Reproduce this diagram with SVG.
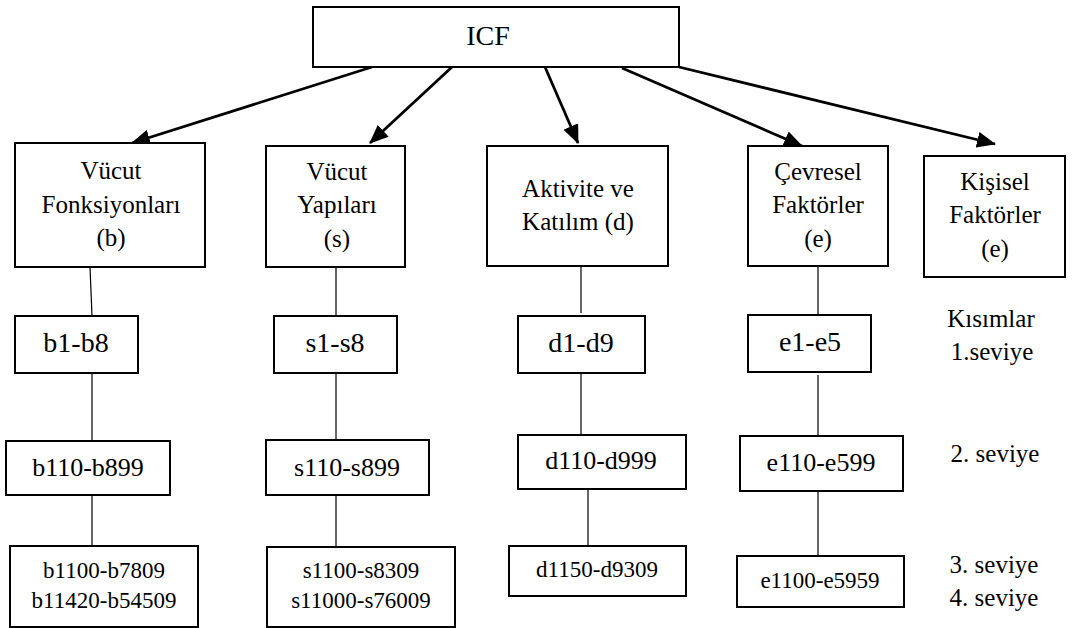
<svg xmlns="http://www.w3.org/2000/svg" width="1081" height="628" viewBox="0 0 1081 628">
<defs>
<marker id="ah" markerUnits="userSpaceOnUse" markerWidth="20" markerHeight="16" refX="18" refY="8" orient="auto">
<path d="M0,0 L19,8 L0,16 Z" fill="#000"/>
</marker>
<style>
.box{fill:#fff;stroke:#000;stroke-width:2}
.t{fill:#000;text-anchor:middle}
.f25{font-size:25px}
.f28{font-size:28px}
.f26{font-size:26px}
.f23{font-size:23px}
.arr{stroke:#000;stroke-width:2.8;fill:none;marker-end:url(#ah)}
.ln{stroke:#000;stroke-width:1.2;fill:none}
</style>
</defs>
<g id="connectors">
<line class="arr" x1="372" y1="67" x2="132" y2="143"/>
<line class="arr" x1="452" y1="67" x2="370" y2="143"/>
<line class="arr" x1="545" y1="67" x2="578" y2="143"/>
<line class="arr" x1="622" y1="68" x2="802" y2="146"/>
<line class="arr" x1="679" y1="67" x2="995" y2="144"/>
<line class="ln" x1="90" y1="267" x2="92" y2="316"/>
<line class="ln" x1="92" y1="373" x2="92" y2="441"/>
<line class="ln" x1="92" y1="495" x2="92" y2="556"/>
<line class="ln" x1="336" y1="267" x2="336" y2="316"/>
<line class="ln" x1="336" y1="373" x2="336" y2="440"/>
<line class="ln" x1="336" y1="495" x2="336" y2="547"/>
<line class="ln" x1="581" y1="266" x2="581" y2="313"/>
<line class="ln" x1="581" y1="373" x2="581" y2="435"/>
<line class="ln" x1="588" y1="489" x2="588" y2="546"/>
<line class="ln" x1="818" y1="266" x2="818" y2="315"/>
<line class="ln" x1="818" y1="375" x2="818" y2="436"/>
<line class="ln" x1="818" y1="491" x2="818" y2="556"/>
</g>
<g font-family="'Liberation Serif', 'Tinos', 'DejaVu Serif', serif">
<g id="icf">
<rect class="box" x="313" y="7" width="366" height="60"/>
<text class="t f28" x="488" y="45">ICF</text>
</g>
<g id="vucut-fonksiyonlari">
<rect class="box" x="15" y="143" width="190" height="124"/>
<text class="t f25" x="111" y="179">Vücut</text>
<text class="t f25" x="111" y="213">Fonksiyonları</text>
<text class="t f25" x="111" y="246">(b)</text>
</g>
<g id="vucut-yapilari">
<rect class="box" x="266" y="146" width="139" height="121"/>
<text class="t f25" x="337" y="180">Vücut</text>
<text class="t f25" x="337" y="213">Yapıları</text>
<text class="t f25" x="337" y="247">(s)</text>
</g>
<g id="aktivite">
<rect class="box" x="487" y="146" width="181" height="120"/>
<text class="t f25" x="578" y="197">Aktivite ve</text>
<text class="t f25" x="578" y="230">Katılım (d)</text>
</g>
<g id="cevresel">
<rect class="box" x="748" y="146" width="140" height="120"/>
<text class="t f25" x="818" y="180">Çevresel</text>
<text class="t f25" x="818" y="213">Faktörler</text>
<text class="t f25" x="818" y="247">(e)</text>
</g>
<g id="kisisel">
<rect class="box" x="924" y="156" width="141" height="121"/>
<text class="t f25" x="995" y="190">Kişisel</text>
<text class="t f25" x="995" y="223">Faktörler</text>
<text class="t f25" x="995" y="257">(e)</text>
</g>
<g id="b1-b8">
<rect class="box" x="15" y="316" width="123" height="57"/>
<text class="t f28" x="76" y="352">b1-b8</text>
</g>
<g id="s1-s8">
<rect class="box" x="274" y="316" width="123" height="57"/>
<text class="t f28" x="335" y="352">s1-s8</text>
</g>
<g id="d1-d9">
<rect class="box" x="518" y="316" width="127" height="57"/>
<text class="t f28" x="581" y="352">d1-d9</text>
</g>
<g id="e1-e5">
<rect class="box" x="748" y="315" width="123" height="57"/>
<text class="t f28" x="810" y="351">e1-e5</text>
</g>
<g id="b110-b899">
<rect class="box" x="6" y="441" width="164" height="54"/>
<text class="t f26" x="88" y="476">b110-b899</text>
</g>
<g id="s110-s899">
<rect class="box" x="266" y="440" width="163" height="55"/>
<text class="t f26" x="347" y="476">s110-s899</text>
</g>
<g id="d110-d999">
<rect class="box" x="518" y="435" width="168" height="54"/>
<text class="t f26" x="601" y="469">d110-d999</text>
</g>
<g id="e110-e599">
<rect class="box" x="740" y="436" width="163" height="55"/>
<text class="t f26" x="821" y="471">e110-e599</text>
</g>
<g id="b1100-b7809">
<rect class="box" x="10" y="546" width="188" height="81"/>
<text class="t f23" x="104" y="578">b1100-b7809</text>
<text class="t f23" x="104" y="608">b11420-b54509</text>
</g>
<g id="s1100-s8309">
<rect class="box" x="267" y="547" width="188" height="80"/>
<text class="t f23" x="361" y="578">s1100-s8309</text>
<text class="t f23" x="361" y="608">s11000-s76009</text>
</g>
<g id="d1150-d9309">
<rect class="box" x="509" y="546" width="177" height="50"/>
<text class="t f23" x="597" y="577">d1150-d9309</text>
</g>
<g id="e1100-e5959">
<rect class="box" x="737" y="556" width="167" height="51"/>
<text class="t f23" x="820" y="588">e1100-e5959</text>
</g>
<g id="levels">
<text class="t f25" x="991" y="327">Kısımlar</text>
<text class="t f25" x="992" y="360">1.seviye</text>
<text class="t f25" x="995" y="462">2. seviye</text>
<text class="t f25" x="994" y="573">3. seviye</text>
<text class="t f25" x="994" y="606">4. seviye</text>
</g>
</g>
</svg>
